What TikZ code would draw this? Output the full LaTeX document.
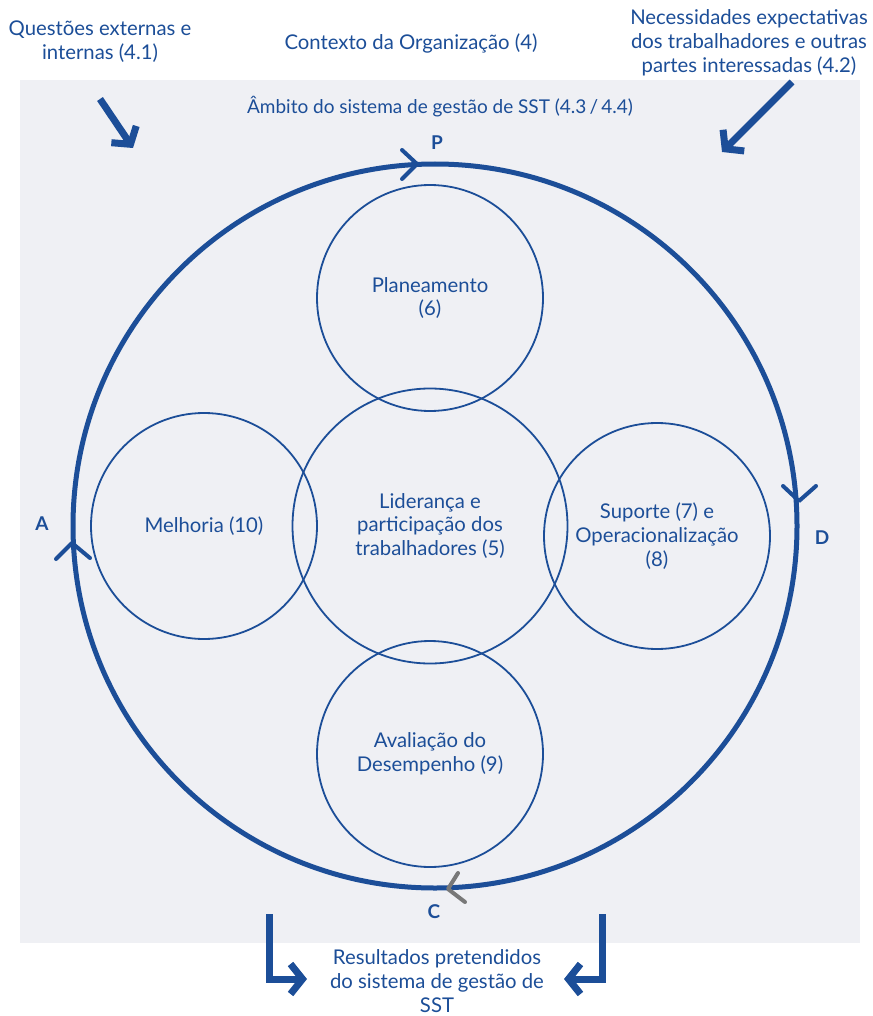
\documentclass[tikz,border=0pt]{standalone}
\usepackage{fontspec}
\setmainfont{Lato}
\usetikzlibrary{arrows.meta}
\definecolor{isoblue}{RGB}{28,78,152}
\definecolor{boxgray}{RGB}{239,240,244}
\definecolor{chevgray}{RGB}{120,120,120}
\tikzset{
  txt/.style={text=isoblue, align=center, font=\fontsize{20.3}{23.8}\selectfont, inner sep=0pt},
  circ/.style={circle, draw=isoblue, line width=1.8pt, inner sep=0pt, minimum size=226pt,
               text=isoblue, align=center, font=\fontsize{20.3}{23.8}\selectfont},
  bigcirc/.style={circle, draw=isoblue, line width=5pt, inner sep=0pt, minimum size=724pt},
  lbl/.style={text=isoblue, font=\fontsize{19}{20}\selectfont\bfseries, inner sep=0pt},
  chev/.style={draw=isoblue, line width=4pt, line cap=round, line join=round},
  fatarrow/.style={draw=isoblue, line width=7pt, -{Straight Barb[length=12pt,width=30pt,line width=7pt]}},
}
\begin{document}
\begin{tikzpicture}[x=1pt,y=-1pt]
\useasboundingbox (0,0) rectangle (872,1016);
\fill[white] (0,0) rectangle (872,1016);
\fill[boxgray] (20,80) rectangle (860,943);

% outer cycle
\node[bigcirc] (big) at (435,526) {};

% inner circles
\node[circ, minimum size=275pt] (lid) at (430,526) {Liderança e\\participação dos\\trabalhadores (5)};
\node[circ] (plan) at (430,298) {Planeamento\\(6)};
\node[circ] (melh) at (204,526) {Melhoria (10)};
\node[circ] (sup) at (657,536) {Suporte (7) e\\Operacionalização\\(8)};
\node[circ] (aval) at (430,754) {Avaliação do\\Desempenho (9)};

% PDCA chevrons
\draw[chev] (402,150) -- (417,164) -- (402,179);
\draw[chev] (783,486) -- (799,501) -- (816,486);
\draw[chev] (56,559) -- (72,543) -- (90,558);
\draw[chev, draw=chevgray] (458,873) -- (448,889) -- (465,902);

\node[lbl] (P) at (437,143) {P};
\node[lbl] (D) at (822,538) {D};
\node[lbl] (A) at (42,524) {A};
\node[lbl] (C) at (434,912) {C};

% texts
\node[txt] (q41) at (100,42) {Questões externas e\\internas (4.1)};
\node[txt] (ctx) at (411,43) {Contexto da Organização (4)};
\node[txt] (q42) at (749,43) {Necessidades expectativas\\dos trabalhadores e outras\\partes interessadas (4.2)};
\node[txt, font=\fontsize{19}{23.8}\selectfont] (amb) at (440,107) {Âmbito do sistema de gestão de SST (4.3\,/\,4.4)};
\node[txt] (res) at (437,981) {Resultados pretendidos\\do sistema de gestão de\\SST};

% input arrows
\coordinate (a1s) at (100,99);
\coordinate (a1e) at (133,148);
\coordinate (a2s) at (792,82);
\coordinate (a2e) at (722,152);
\draw[fatarrow] (a1s) -- (a1e);
\draw[fatarrow] (a2s) -- (a2e);

% output arrows
\coordinate (b1s) at (269,914);
\coordinate (b1e) at (307,979);
\coordinate (b2s) at (602,914);
\coordinate (b2e) at (564,979);
\draw[fatarrow] (b1s) |- (b1e);
\draw[fatarrow] (b2s) |- (b2e);
\end{tikzpicture}
\end{document}
